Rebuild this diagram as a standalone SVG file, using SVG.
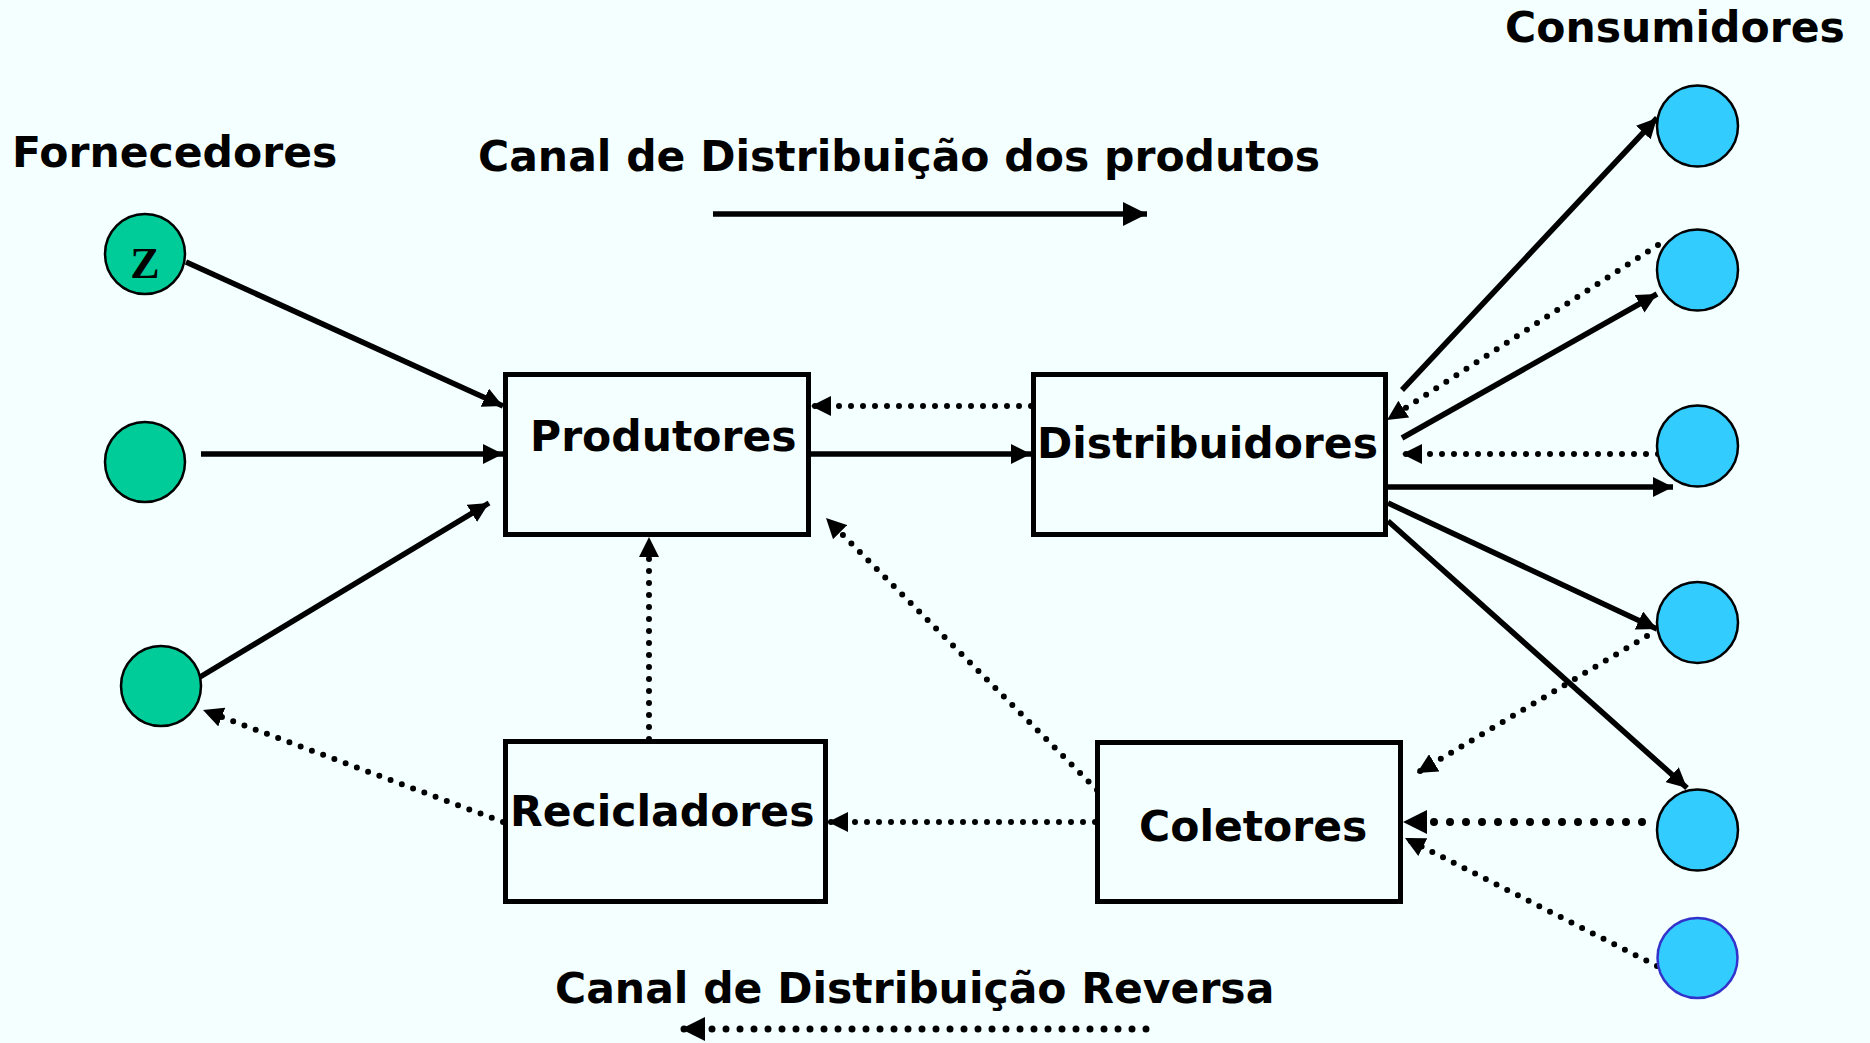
<svg xmlns="http://www.w3.org/2000/svg" width="1870" height="1043" viewBox="0 0 1870 1043">
<style>
.lbl{font-family:"DejaVu Sans","Verdana",sans-serif;font-weight:bold;font-size:42.5px;fill:#000}
.box{fill:none;stroke:#000;stroke-width:5}
.sup{fill:#00CC99;stroke:#000;stroke-width:2.5}
.con{fill:#33CCFF;stroke:#000;stroke-width:2.5}
.solid{fill:none;stroke:#000;stroke-width:5.5;marker-end:url(#ah)}
.dot{fill:none;stroke:#000;stroke-width:6;stroke-dasharray:0 12;stroke-linecap:round;marker-end:url(#ah)}
.dotb{fill:none;stroke:#000;stroke-width:8;stroke-dasharray:0 16;stroke-linecap:round;marker-end:url(#ahb)}
</style>
<defs>
<marker id="ah" viewBox="0 0 20 20" refX="20" refY="10" markerWidth="20" markerHeight="20" markerUnits="userSpaceOnUse" orient="auto"><path d="M0,0 L20,10 L0,20 z" fill="#000"/></marker>
<marker id="ahb" viewBox="0 0 20 20" refX="20" refY="10" markerWidth="24" markerHeight="24" markerUnits="userSpaceOnUse" orient="auto"><path d="M0,0 L20,10 L0,20 z" fill="#000"/></marker>
</defs>
<rect x="0" y="0" width="1870" height="1043" fill="#F4FFFF"/>

<g id="titles">
<text class="lbl" x="12" y="167">Fornecedores</text>
<text class="lbl" x="1505" y="42">Consumidores</text>
<text class="lbl" x="478" y="171">Canal de Distribuição dos produtos</text>
<text class="lbl" x="555" y="1003">Canal de Distribuição Reversa</text>
</g>

<g id="connectors">
<line class="solid" x1="186" y1="262" x2="503" y2="406"/>
<line class="solid" x1="201" y1="454" x2="503" y2="454"/>
<line class="solid" x1="200" y1="677" x2="489" y2="503"/>
<line class="solid" x1="811" y1="454" x2="1031" y2="454"/>
<line class="solid" x1="1402" y1="390" x2="1657" y2="118"/>
<line class="solid" x1="1402" y1="438" x2="1657" y2="294"/>
<line class="solid" x1="1388" y1="487" x2="1673" y2="487"/>
<line class="solid" x1="1388" y1="503" x2="1657" y2="629"/>
<line class="solid" x1="1388" y1="521" x2="1687" y2="788"/>
<line class="solid" x1="713" y1="214" x2="1147" y2="214" style="marker-end:url(#ahb)"/>

<line class="dot" x1="1031" y1="406" x2="811" y2="406"/>
<line class="dot" x1="1658" y1="245" x2="1387" y2="420"/>
<line class="dot" x1="1658" y1="454" x2="1402" y2="454"/>
<line class="dot" x1="1647" y1="636" x2="1417" y2="773"/>
<line class="dotb" x1="1642" y1="822" x2="1403" y2="822"/>
<line class="dot" x1="1657" y1="966" x2="1405" y2="838"/>
<line class="dot" x1="1095" y1="822" x2="828" y2="822"/>
<line class="dot" x1="1097" y1="790" x2="826" y2="518"/>
<line class="dot" x1="649" y1="739" x2="649" y2="537"/>
<line class="dot" x1="503" y1="822" x2="203" y2="710"/>
<line class="dotb" x1="1146" y1="1029" x2="681" y2="1029" style="stroke-width:7;stroke-dasharray:0 14"/>
</g>

<g id="fornecedor-z">
<circle class="sup" cx="145" cy="254" r="40"/>
<text x="145" y="278" text-anchor="middle" font-family="Liberation Serif, serif" font-weight="bold" font-size="44">Z</text>
</g>
<g id="fornecedor-2"><circle class="sup" cx="145" cy="462" r="40"/></g>
<g id="fornecedor-3"><circle class="sup" cx="161" cy="686" r="40"/></g>

<g id="produtores">
<rect class="box" x="505.5" y="374.5" width="303" height="160"/>
<text class="lbl" x="530" y="451">Produtores</text>
</g>
<g id="distribuidores">
<rect class="box" x="1033.5" y="374.5" width="352" height="160"/>
<text class="lbl" x="1037" y="458">Distribuidores</text>
</g>
<g id="recicladores">
<rect class="box" x="505.5" y="741.5" width="320" height="160"/>
<text class="lbl" x="510" y="826">Recicladores</text>
</g>
<g id="coletores">
<rect class="box" x="1097.5" y="742.5" width="303" height="159"/>
<text class="lbl" x="1139" y="841">Coletores</text>
</g>

<g id="consumidor-1"><circle class="con" cx="1697.5" cy="126" r="40.5"/></g>
<g id="consumidor-2"><circle class="con" cx="1697.5" cy="270" r="40.5"/></g>
<g id="consumidor-3"><circle class="con" cx="1697.5" cy="446" r="40.5"/></g>
<g id="consumidor-4"><circle class="con" cx="1697.5" cy="622.5" r="40.5"/></g>
<g id="consumidor-5"><circle class="con" cx="1697.5" cy="830" r="40.5"/></g>
<g id="consumidor-6"><circle class="con" cx="1697.5" cy="958" r="40" style="stroke:#3333CC"/></g>
</svg>
